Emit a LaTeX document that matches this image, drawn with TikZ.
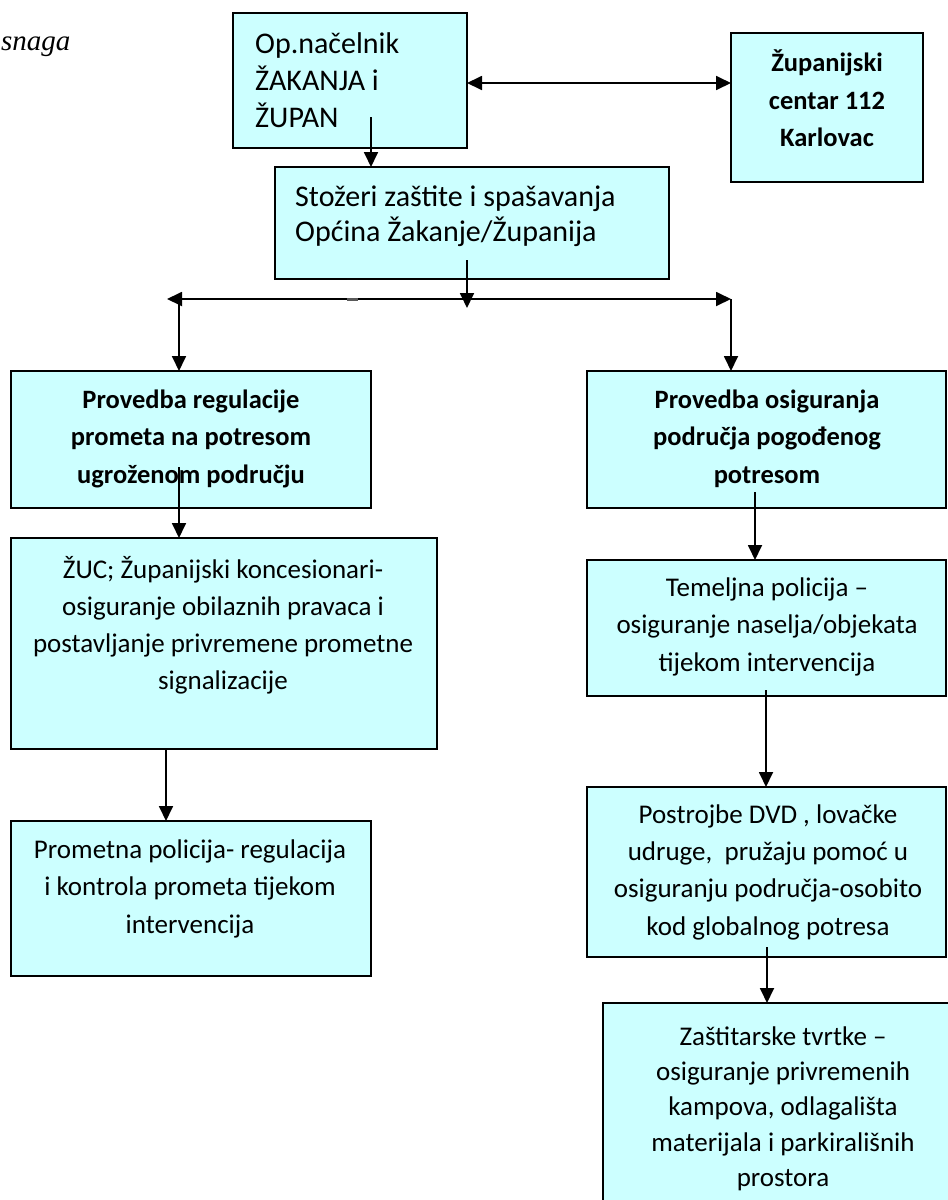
\documentclass[tikz,border=0pt]{standalone}
\usepackage{fontspec}
\setmainfont{Carlito}
\newfontfamily\tnr{Liberation Serif}
\usetikzlibrary{arrows.meta}
\definecolor{boxfill}{HTML}{CCFFFF}
\newcommand{\fs}{\rule{0pt}{20pt}}
\begin{document}
\begin{tikzpicture}[x=1pt,y=-1pt,
  box/.style={draw=black, line width=1.6pt, fill=boxfill, anchor=north west, inner sep=0pt, outer sep=0pt},
  txt/.style={inner sep=0pt, anchor=north, align=center, font=\fontsize{27}{37.5}\selectfont},
  txtb/.style={inner sep=0pt, anchor=north, align=center, font=\fontsize{26.5}{37.5}\selectfont\bfseries},
  txtl/.style={inner sep=0pt, anchor=north west, align=left, font=\fontsize{30}{37}\selectfont},
  arr/.style={line width=1.8pt, -{Triangle[length=15pt,width=14pt]}},
  arrr/.style={line width=1.8pt, {Triangle[length=15pt,width=14pt]}-{Triangle[length=15pt,width=14pt]}},
]
\useasboundingbox (0,0) rectangle (948,1200);
\clip (0,0) rectangle (948,1200);

% side text
\node[inner sep=0pt, anchor=base west, font=\tnr\itshape\fontsize{29}{32}\selectfont] (sn) at (1,50) {snaga};

% boxes
\node[box, minimum width=234pt, minimum height=135pt] (A) at (233,13) {};
\node[box, minimum width=192pt, minimum height=149pt] (B) at (731,33) {};
\node[box, minimum width=394pt, minimum height=112pt] (C) at (275,167) {};
\node[box, minimum width=360pt, minimum height=137pt] (D) at (11,371) {};
\node[box, minimum width=359pt, minimum height=137pt] (E) at (587,371) {};
\node[box, minimum width=426pt, minimum height=211pt] (F) at (11,538) {};
\node[box, minimum width=360pt, minimum height=155pt] (G) at (11,821) {};
\node[box, minimum width=359pt, minimum height=136pt] (H) at (587,560) {};
\node[box, minimum width=359pt, minimum height=170pt] (I) at (587,787) {};
\node[box, minimum width=370pt, minimum height=230pt] (J) at (603,1003) {};

% texts
\node[txtl] (At) at (255,32) {\fs Op.načelnik\\ŽAKANJA i\\ŽUPAN};
\node[txtb] (Bt) at (827,50) {\fs Županijski\\centar 112\\Karlovac};
\node[txtl, font=\fontsize{30}{35}\selectfont] (Ct) at (295,186) {\fs Stožeri zaštite i spašavanja\\Općina Žakanje/Županija};
\node[txtb] (Dt) at (191,388) {\fs Provedba regulacije\\prometa na potresom\\ugroženom području};
\node[txtb] (Et) at (767,388) {\fs Provedba osiguranja\\područja pogođenog\\potresom};
\node[txt, font=\fontsize{27}{37}\selectfont] (Ft) at (223,556) {\fs ŽUC; Županijski koncesionari-\\osiguranje obilaznih pravaca i\\postavljanje privremene prometne\\signalizacije};
\node[txt] (Gt) at (190,838) {\fs Prometna policija- regulacija\\i kontrola prometa tijekom\\intervencija};
\node[txt] (Ht) at (767,576) {\fs Temeljna policija –\\osiguranje naselja/objekata\\tijekom intervencija};
\node[txt, font=\fontsize{27}{37.3}\selectfont] (It) at (768,803) {\fs Postrojbe DVD , lovačke\\udruge,\ \ pružaju pomoć u\\osiguranju područja-osobito\\kod globalnog potresa};
\node[txt, font=\fontsize{27}{35.3}\selectfont] (Jt) at (783,1025) {\fs Zaštitarske tvrtke –\\osiguranje privremenih\\kampova, odlagališta\\materijala i parkirališnih\\prostora};

% connector coordinates
\coordinate (a1) at (371,117);
\coordinate (ab) at (0,83);
\coordinate (c1) at (467,260);
\coordinate (hl) at (167,299);
\coordinate (hr) at (731,299);
\coordinate (cb) at (467,308);
\coordinate (vl) at (179,299);
\coordinate (d1) at (179,467);
\coordinate (f1) at (166,749);
\coordinate (e1) at (755,492);
\coordinate (h1) at (766,690);
\coordinate (i1) at (767,947);
\coordinate (m1) at (347,299);
\coordinate (m2) at (358,299);

% connectors
\draw[arr] (a1) -- (a1 |- C.north);
\draw[arrr] (A.east |- ab) -- (B.west |- ab);
\draw[arrr] (hl) -- (hr);
\draw[arr] (c1) -- (cb);
\draw[gray!70!black, line width=3pt] (m1) -- (m2);
\draw[arr] (vl) -- (vl |- D.north);
\draw[arr] (hr) -- (hr |- E.north);
\draw[arr] (d1) -- (d1 |- F.north);
\draw[arr] (f1) -- (f1 |- G.north);
\draw[arr] (e1) -- (e1 |- H.north);
\draw[arr] (h1) -- (h1 |- I.north);
\draw[arr] (i1) -- (i1 |- J.north);
\end{tikzpicture}
\end{document}
